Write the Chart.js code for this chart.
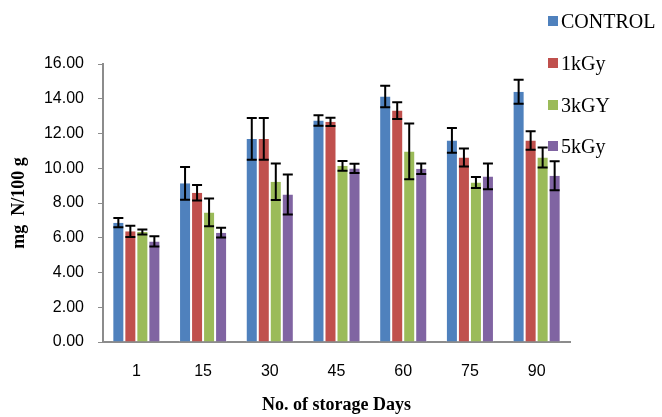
<!DOCTYPE html>
<html>
<head>
<meta charset="utf-8">
<script src="https://cdn.jsdelivr.net/npm/chart.js@4"></script>
<style>
  body { margin: 0; background: #fff; }
  #wrap { position: relative; width: 662px; height: 417px; }
  #legend { position: absolute; left: 548px; top: 0; font-family: "Liberation Serif", serif; font-size: 20px; color: #000; }
  #legend div { position: absolute; white-space: nowrap; line-height: 24px; }
  #legend span { display: inline-block; width: 10px; height: 10px; margin-right: 3px; vertical-align: 2px; }
</style>
</head>
<body>
<div id="wrap">
  <canvas id="myChart" width="662" height="417"></canvas>
  <div id="legend"></div>
</div>
<script>
let days = ["1", "15", "30", "45", "60", "75", "90"];
let seriesNames = ["CONTROL", "1kGy", "3kGY", "5kGy"];
let colorHex = ["#4F81BD", "#C0504D", "#9BBB59", "#8064A2"];

let control = [6.87, 9.13, 11.69, 12.75, 14.13, 11.6, 14.4];
let kGy1 = [6.37, 8.59, 11.69, 12.67, 13.32, 10.62, 11.6];
let kGy3 = [6.33, 7.46, 9.22, 10.14, 10.97, 9.18, 10.62];
let kGy5 = [5.79, 6.29, 8.49, 9.99, 9.97, 9.53, 9.57];

let errControl = [0.26, 0.94, 1.2, 0.3, 0.62, 0.71, 0.69];
let err1 = [0.32, 0.44, 1.2, 0.24, 0.48, 0.52, 0.53];
let err3 = [0.15, 0.8, 1.05, 0.28, 1.6, 0.31, 0.57];
let err5 = [0.3, 0.28, 1.15, 0.27, 0.3, 0.74, 0.83];

let values = [control, kGy1, kGy3, kGy5];
let errors = [errControl, err1, err3, err5];

// legend as html text
let legendTops = [9, 51, 93, 134];
let legend = document.getElementById("legend");
seriesNames.forEach((name, i) => {
  let d = document.createElement("div");
  d.style.top = legendTops[i] + "px";
  d.innerHTML = '<span style="background:' + colorHex[i] + '"></span>' + name;
  legend.appendChild(d);
});

let errorBars = {
  id: "errorBars",
  afterDatasetsDraw(chart) {
    let ctx = chart.ctx;
    let y = chart.scales.y;
    ctx.save();
    ctx.strokeStyle = "#000";
    ctx.lineWidth = 2;
    chart.data.datasets.forEach((ds, i) => {
      let meta = chart.getDatasetMeta(i);
      meta.data.forEach((bar, j) => {
        let v = ds.data[j];
        let e = errors[i][j];
        let top = y.getPixelForValue(v + e);
        let bot = y.getPixelForValue(v - e);
        let x = bar.x;
        ctx.beginPath();
        ctx.moveTo(x, top); ctx.lineTo(x, bot);
        ctx.moveTo(x - 5, top); ctx.lineTo(x + 5, top);
        ctx.moveTo(x - 5, bot); ctx.lineTo(x + 5, bot);
        ctx.stroke();
      });
    });
    ctx.restore();
  }
};

let ctx = document.getElementById("myChart").getContext("2d");
let myChart = new Chart(ctx, {
  type: "bar",
  data: {
    labels: days,
    datasets: values.map((v, i) => ({
      label: seriesNames[i],
      data: v,
      backgroundColor: colorHex[i],
      borderColor: "rgba(255,255,255,0.6)",
      borderWidth: { left: 1, right: 1, top: 0, bottom: 0 },
      categoryPercentage: 0.72,
      barPercentage: 1.0
    }))
  },
  options: {
    responsive: false,
    animation: false,
    layout: { padding: { left: 0, right: 92, top: 64, bottom: 0 } },
    plugins: { legend: { display: false }, tooltip: { enabled: false } },
    scales: {
      x: {
        grid: { display: false },
        border: { color: "#8c8c8c", width: 2 },
        ticks: { color: "#000", font: { family: "Liberation Sans", size: 16 }, padding: 12 },
        title: {
          display: true,
          text: "No. of storage Days",
          color: "#000",
          font: { family: "Liberation Serif", size: 18, weight: "bold" },
          padding: { top: 4, bottom: 1 }
        },
        afterFit: (s) => { s.height = 75; }
      },
      y: {
        min: 0,
        max: 16,
        grid: { drawOnChartArea: false, color: "#8c8c8c", tickLength: 5 },
        border: { color: "#8c8c8c", width: 2 },
        ticks: {
          stepSize: 2,
          color: "#000",
          font: { family: "Liberation Sans", size: 16 },
          padding: 14,
          callback: (v) => v.toFixed(2)
        },
        title: {
          display: true,
          text: "mg  N/100 g",
          color: "#000",
          font: { family: "Liberation Serif", size: 18, weight: "bold" },
          padding: { top: 9, bottom: 2 }
        },
        afterFit: (s) => { s.width = 103; }
      }
    }
  },
  plugins: [errorBars]
});
</script>
</body>
</html>
